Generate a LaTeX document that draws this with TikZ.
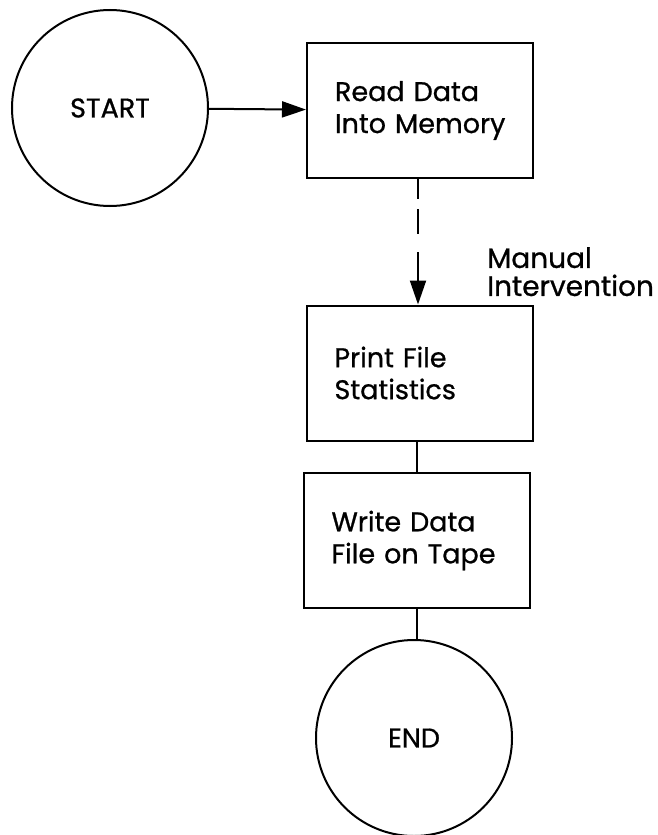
\documentclass[tikz,border=0pt]{standalone}
\usepackage{fontspec}
\setmainfont{Poppins}[FakeBold=0.8]
\usetikzlibrary{arrows.meta}
\tikzset{
  circ/.style={draw, circle, line width=2pt, minimum size=196pt, inner sep=0pt,
    font=\fontsize{27}{32}\selectfont},
  procbox/.style={draw, rectangle, line width=2pt, minimum height=135pt,
    text width=170pt, inner xsep=28pt, inner ysep=0pt, align=left,
    font=\fontsize{27}{32}\selectfont},
  conn/.style={line width=2pt},
  arr/.style={conn, -{Triangle[length=24pt,width=16pt]}},
}
\begin{document}
\begin{tikzpicture}[x=1pt,y=-1pt]
\useasboundingbox[fill=white] (0,0) rectangle (657,835);
\node[circ] (start) at (110,108) {START};
\node[procbox] (b1) at (420,110.5) {\mbox{Read Data}\\\mbox{Into Memory}};
\node[procbox] (b2) at (419.5,373) {\mbox{Print File}\\\mbox{Statistics}};
\node[procbox] (b3) at (416.5,540.5) {\mbox{Write Data}\\\mbox{File on Tape}};
\node[circ] (end) at (414,738) {END};
\node[anchor=north west, inner sep=0pt, align=left,
  font=\fontsize{28}{28}\selectfont] (mi) at (487,247) {Manual\\Intervention};
\draw[arr] (start) -- (b1);
\draw[arr, dash pattern=on 20pt off 10pt on 25pt off 18pt on 80pt] (b1.south -| 418,0) -- (b2.north -| 418,0);
\draw[conn] (b2.south -| 417,0) -- (b3.north -| 417,0);
\draw[conn] (b3.south -| 417,0) -- (end.north -| 417,0);
\end{tikzpicture}
\end{document}
